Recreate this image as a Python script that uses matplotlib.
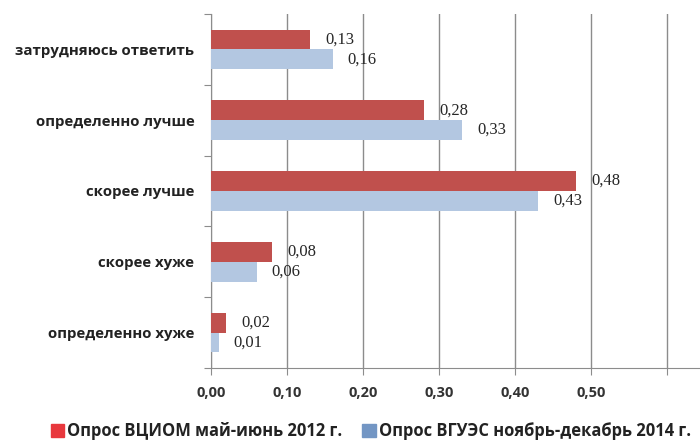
import numpy as np
import matplotlib.pyplot as plt
from matplotlib.patches import Patch

# categories bottom to top
categories = ["определенно хуже", "скорее хуже", "скорее лучше",
              "определенно лучше", "затрудняюсь ответить"]
vciom_2012 = [0.02, 0.08, 0.48, 0.28, 0.13]
vgues_2014 = [0.01, 0.06, 0.43, 0.33, 0.16]
series_names = ["Опрос ВЦИОМ май-июнь 2012 г.", "Опрос ВГУЭС ноябрь-декабрь 2014 г."]
xticks = [0.0, 0.1, 0.2, 0.3, 0.4, 0.5, 0.6]
xticklabels = ["0,00", "0,10", "0,20", "0,30", "0,40", "0,50", ""]

red = "#C0504D"
blue = "#B3C7E1"
grid_color = "#8C8C8C"
sans = "Open Sans"

fig = plt.figure(figsize=(7, 4.43), dpi=100)
# x axis runs past the 0.60 gridline to the right edge
ax = fig.add_axes([0.3014, 0.1693, 0.6986, 0.7991])

y = np.arange(len(categories))
h = 0.28
b1 = ax.barh(y + h / 2, vciom_2012, height=h, color=red, zorder=3)
b2 = ax.barh(y - h / 2, vgues_2014, height=h, color=blue, zorder=3)

for bars, vals in ((b1, vciom_2012), (b2, vgues_2014)):
    for bar, v in zip(bars, vals):
        ax.annotate(f"{v:.2f}".replace(".", ","),
                    (bar.get_width(), bar.get_y() + bar.get_height() / 2),
                    xytext=(11, 0), textcoords="offset points",
                    va="center", ha="left", fontsize=12,
                    family="Liberation Serif", color="#262626")

ax.set_xlim(0, 0.6 * 489 / 456)
ax.set_ylim(-0.5, len(categories) - 0.5)
ax.set_xticks(xticks)
ax.set_xticklabels(xticklabels, family=sans, fontsize=10.5,
                   fontweight="bold", color="#333333")
ax.set_yticks(np.arange(-0.5, len(categories), 1.0))
ax.set_yticklabels([])
ax.set_yticks(y, minor=True)
ax.set_yticklabels(categories, minor=True, family=sans, fontsize=10.8,
                   fontweight="bold", color="#222222")
ax.tick_params(axis="y", which="minor", length=0, pad=12)
ax.tick_params(axis="y", which="major", length=5, color=grid_color)
ax.tick_params(axis="x", length=5, color=grid_color, pad=8)

ax.grid(axis="x", color=grid_color, linewidth=1, zorder=0)
for side in ("top", "right"):
    ax.spines[side].set_visible(False)
for side in ("left", "bottom"):
    ax.spines[side].set_color(grid_color)

handles = [Patch(color="#E8383D"), Patch(color="#7396C4")]
fig.legend(handles, series_names, loc="center", ncol=2,
           bbox_to_anchor=(0.53, 1 - 431 / 443), frameon=False,
           prop={"family": sans, "size": 11.9, "weight": "bold"},
           handlelength=0.8, handleheight=0.8, handletextpad=0.2,
           columnspacing=1.2, labelcolor="#222222",
           borderpad=0.1)

fig.savefig("out.png", dpi=100)
